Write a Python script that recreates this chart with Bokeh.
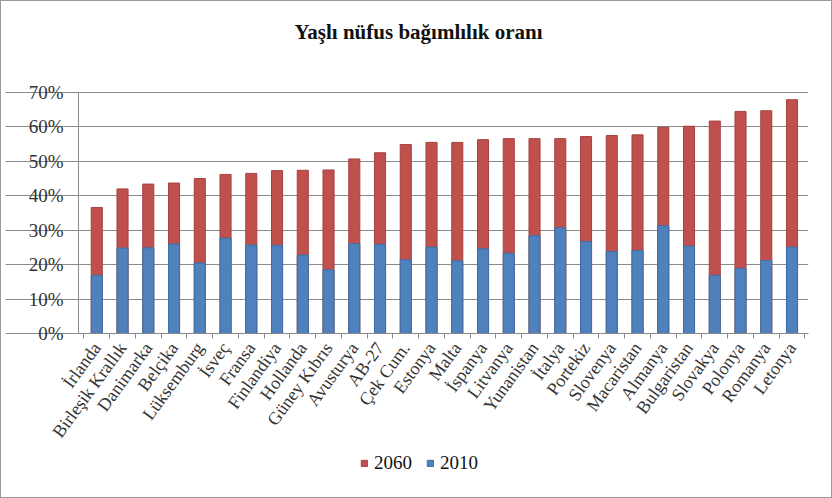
import math
from bokeh.plotting import figure
from bokeh.models import (Range1d, FixedTicker, NumeralTickFormatter, Legend,
                          LegendItem, ColumnDataSource, Title)
from bokeh.embed import file_html
from bokeh.resources import INLINE

countries = ["İrlanda", "Birleşik Krallık", "Danimarka", "Belçika", "Lüksemburg",
             "İsveç", "Fransa", "Finlandiya", "Hollanda", "Güney Kıbrıs",
             "Avusturya", "AB-27", "Çek Cum.", "Estonya", "Malta", "İspanya",
             "Litvanya", "Yunanistan", "İtalya", "Portekiz", "Slovenya",
             "Macaristan", "Almanya", "Bulgaristan", "Slovakya", "Polonya",
             "Romanya", "Letonya"]
v2060 = [0.366, 0.420, 0.434, 0.437, 0.450, 0.462, 0.465, 0.473, 0.474, 0.475,
         0.507, 0.525, 0.549, 0.555, 0.555, 0.563, 0.566, 0.566, 0.566, 0.572,
         0.575, 0.577, 0.599, 0.602, 0.617, 0.645, 0.647, 0.679]
v2010 = [0.169, 0.248, 0.249, 0.260, 0.205, 0.277, 0.257, 0.256, 0.228, 0.185,
         0.261, 0.259, 0.214, 0.251, 0.211, 0.246, 0.233, 0.284, 0.307, 0.267,
         0.238, 0.241, 0.313, 0.254, 0.169, 0.189, 0.212, 0.251]
y_ticks = [0.0, 0.1, 0.2, 0.3, 0.4, 0.5, 0.6, 0.7]

idx = list(range(len(countries)))
src = ColumnDataSource(dict(x=idx, c=countries, a=v2060, b=v2010))

SERIF = "Liberation Serif"
X0, X1 = -0.71, 27.64      # visible category band (axis extent)
Y0, Y1 = 0.0, 0.7          # value axis extent

# The frame fills the canvas (so rotated labels and the legend are not clipped);
# axes are pinned at the data origin with fixed_location.
p = figure(width=832, height=498, output_backend="svg", toolbar_location=None,
           x_range=Range1d(-3.545, X1), y_range=Range1d(-0.459, 0.761),
           min_border_left=4, min_border_right=25, min_border_top=70,
           min_border_bottom=8)
p.outline_line_color = None
p.background_fill_color = "white"
p.border_fill_color = "white"
p.styles = {"border": "1px solid #9a9a9a", "box-sizing": "border-box"}

# spacer between frame and title (panel items stack outward from the frame)
p.add_layout(Title(text=" ", text_font_size="21px", standoff=3), "above")
p.title.text = "Yaşlı nüfus bağımlılık oranı"
p.title.text_font = SERIF
p.title.text_font_size = "21px"
p.title.text_font_style = "bold"
p.title.text_color = "#111111"
p.title.align = "left"
p.title.offset = 289
p.title.standoff = 0

r_red = p.vbar(x="x", top="a", bottom=0, width=0.43, source=src,
               fill_color="#C0504D", line_color="#A5423F", line_width=1)
r_blue = p.vbar(x="x", top="b", bottom=0, width=0.43, source=src,
                fill_color="#4F81BD", line_color="#3F6EA6", line_width=1)

# y axis
p.yaxis.fixed_location = X0
p.yaxis.bounds = (Y0, Y1)
p.yaxis.ticker = FixedTicker(ticks=y_ticks)
p.yaxis.formatter = NumeralTickFormatter(format="0%")
p.yaxis.major_label_text_font = SERIF
p.yaxis.major_label_text_font_size = "19px"
p.yaxis.major_label_text_color = "#333333"
p.yaxis.axis_line_color = "#8a8a8a"
p.yaxis.major_tick_line_color = "#8a8a8a"
p.yaxis.major_tick_out = 5
p.yaxis.major_tick_in = 0
p.yaxis.minor_tick_line_color = None
p.yaxis.major_label_standoff = 10

# x axis
p.xaxis.fixed_location = Y0
p.xaxis.bounds = (X0, X1)
p.xaxis.ticker = FixedTicker(ticks=idx, minor_ticks=[i - 0.5 for i in range(len(countries) + 1)])
p.xaxis.major_label_overrides = {i: c for i, c in enumerate(countries)}
p.xaxis.major_label_orientation = math.radians(54)
p.xaxis.major_label_text_font = SERIF
p.xaxis.major_label_text_font_size = "18px"
p.xaxis.major_label_text_color = "#333333"
p.xaxis.major_tick_out = 0
p.xaxis.major_tick_in = 0
p.xaxis.minor_tick_out = 5
p.xaxis.minor_tick_in = 0
p.xaxis.minor_tick_line_color = "#8a8a8a"
p.xaxis.axis_line_color = "#8a8a8a"
p.xaxis.major_label_standoff = 6

p.xgrid.grid_line_color = None
p.ygrid.grid_line_color = "#8a8a8a"
p.ygrid.grid_line_width = 1
p.ygrid.bounds = (X0, X1)
p.ygrid.ticker = FixedTicker(ticks=y_ticks)

legend = Legend(items=[LegendItem(label="2060", renderers=[r_red]),
                       LegendItem(label="2010", renderers=[r_blue])],
                orientation="horizontal", location=(355, 17),
                label_text_font=SERIF, label_text_font_size="19px",
                label_text_color="#111111",
                glyph_width=8, glyph_height=8, spacing=14,
                border_line_color=None, background_fill_alpha=0,
                margin=0, padding=4, label_standoff=6)
p.add_layout(legend, "center")

open("out.html", "w").write(file_html(p, INLINE))
